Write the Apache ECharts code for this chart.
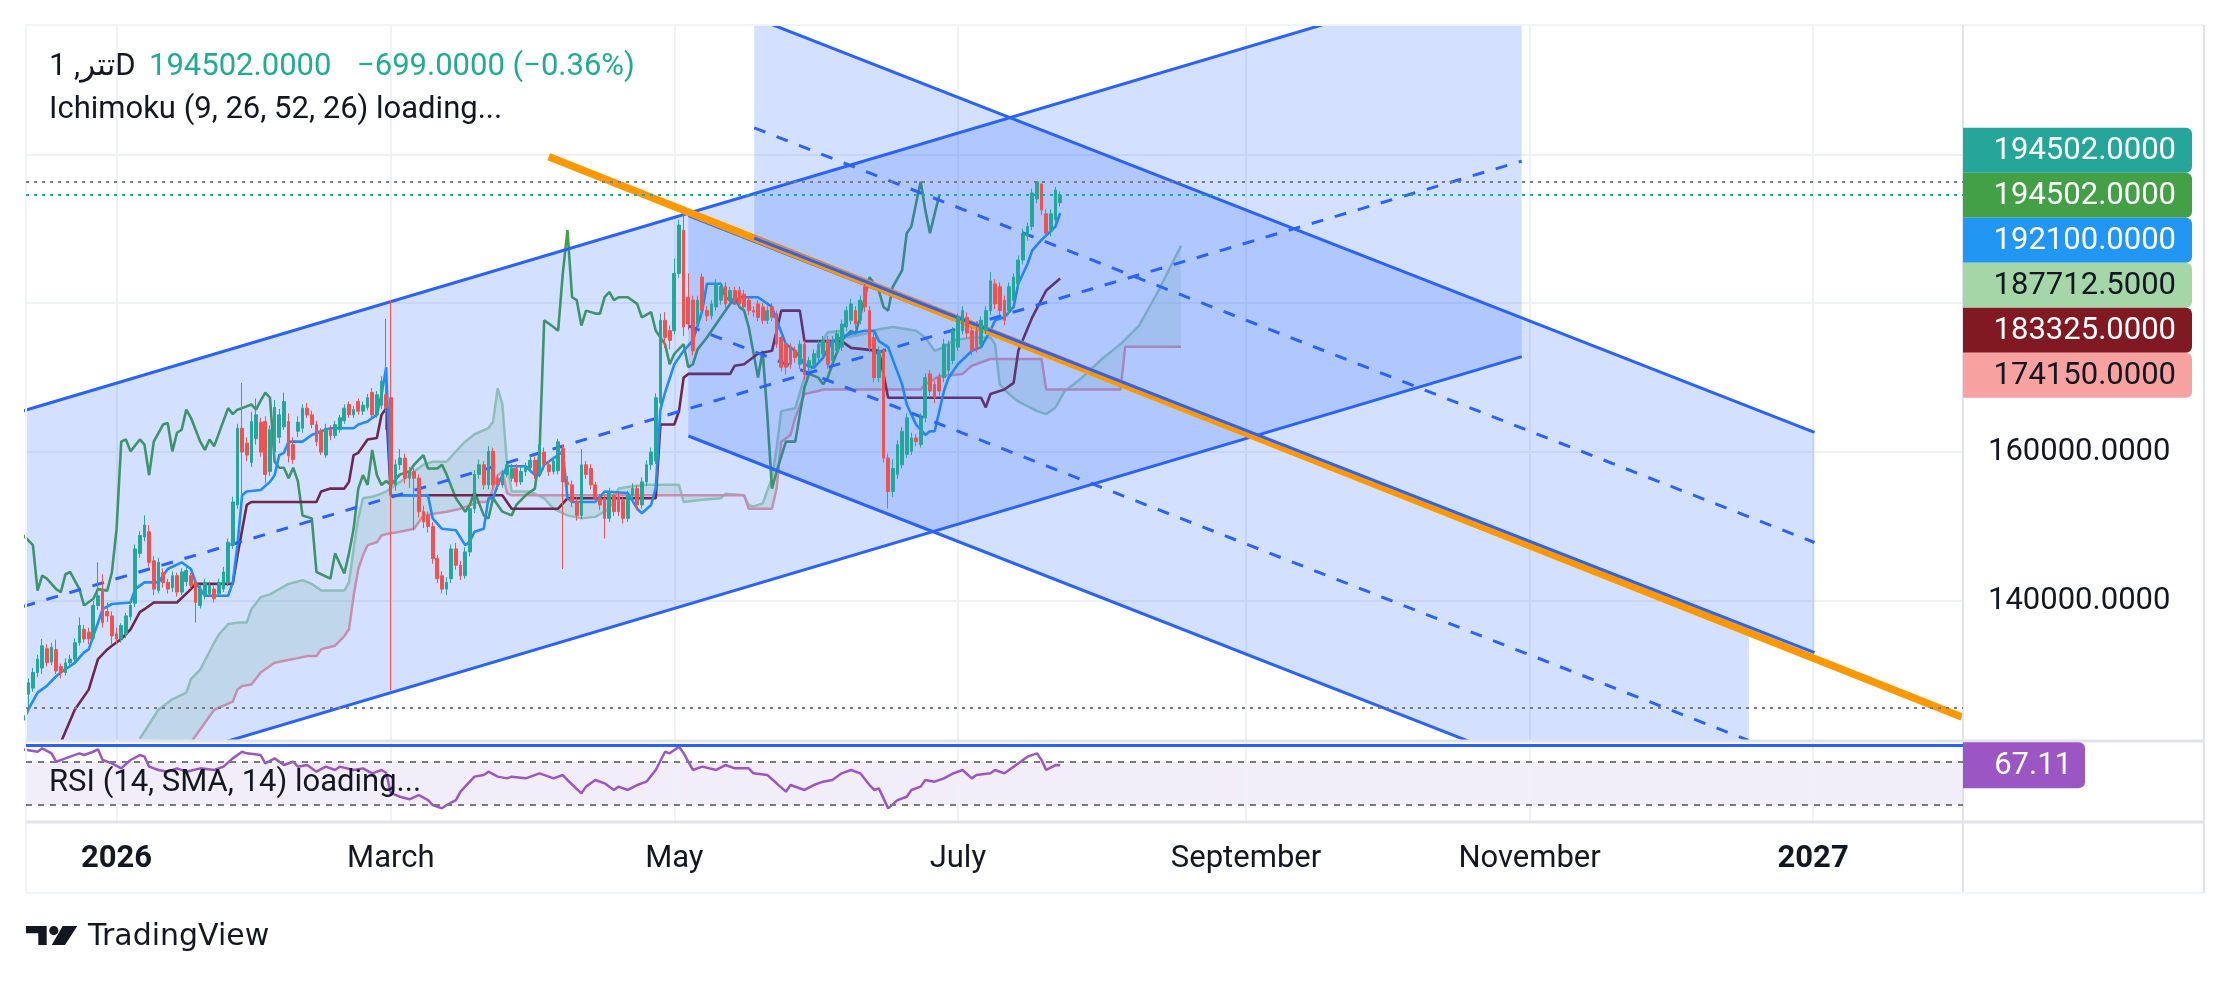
<!DOCTYPE html>
<html><head><meta charset="utf-8">
<script src="https://cdn.jsdelivr.net/npm/echarts@6.0.0/dist/echarts.min.js"></script>
<style>html,body{margin:0;padding:0;background:#fff}#c{width:2230px;height:986px}</style>
</head><body><div id="c"></div>
<script>
// ---------- DATA (prices in thousands; x of indicator/drawing points = days since dayZero) ----------
const dayZero = '2026-01-01';
const candleStart = '2025-12-13';
const symbolText = 'تتر, 1D';
// [open, close, low, high] per day
const candles = [
[127.5,129.0,125.6,129.6],[128.3,130.4,127.8,131.0],[130.4,132.2,129.8,132.8],[131.0,134.0,130.2,134.9],[133.6,131.7,131.2,134.2],
[131.8,133.8,131.4,134.4],[133.5,130.6,130.2,134.8],[131.2,130.4,129.6,131.6],[130.4,131.7,130.0,132.3],[131.7,132.2,131.2,132.8],
[132.2,134.4,131.8,135.0],[134.4,136.7,134.0,137.8],[136.2,134.9,134.4,136.8],[135.8,134.9,134.2,136.4],[135.0,139.4,134.8,140.0],
[139.4,140.7,138.8,145.2],[141.5,137.1,136.4,143.6],[138.6,138.0,137.2,139.8],[138.0,135.3,134.2,138.6],
[135.6,134.9,134.2,136.4],[134.9,136.7,134.4,137.0],[135.5,138.0,135.0,138.4],[137.9,139.4,137.4,140.2],[139.7,147.0,139.2,147.6],
[146.4,148.8,145.8,149.4],[148.6,150.2,148.0,151.5],[149.3,145.2,144.6,150.2],[145.4,141.6,140.8,146.0],[141.4,145.2,141.0,145.8],
[143.8,142.5,141.8,144.4],[142.5,141.6,141.0,143.0],[141.8,143.4,141.2,144.0],[143.4,141.2,140.6,143.8],[141.2,143.9,140.8,144.4],
[142.6,144.1,142.0,144.6],[143.4,142.1,141.6,143.8],[142.5,139.8,137.1,142.8],[139.4,141.6,139.0,142.2],[140.8,142.5,140.2,143.0],
[141.0,142.1,140.6,142.6],[141.6,140.3,139.8,142.0],[141.0,142.5,140.6,143.0],[141.6,143.9,141.2,144.6],[142.4,147.9,142.0,148.4],
[147.5,153.3,147.0,154.0],[152.9,163.2,152.4,163.8],[163.2,160.0,153.0,169.3],[161.2,159.6,158.8,162.0],[158.6,164.1,158.0,165.4],
[161.8,165.0,161.0,167.2],
[164.0,160.0,159.4,164.6],[164.1,157.0,155.8,164.8],[157.4,163.0,156.8,163.6],[160.0,166.0,159.4,167.0],[162.0,165.0,161.2,165.8],
[163.4,166.8,163.0,168.0],[164.1,159.5,158.6,165.2],[161.0,159.0,158.4,162.0],[162.8,164.0,162.0,164.8],[163.2,165.9,162.6,166.4],
[165.9,165.0,164.6,166.6],[165.0,163.7,163.2,165.6],[163.7,161.4,160.8,164.2],[162.8,160.0,159.6,163.2],[159.6,163.2,159.2,163.8],
[163.0,162.2,161.6,163.6],[162.2,163.7,161.8,164.2],[163.0,164.6,162.6,165.0],[164.2,165.9,163.8,166.4],[166.4,165.0,164.6,166.8],
[165.0,165.7,164.6,166.2],[166.8,165.5,165.0,167.2],[165.5,166.3,165.0,166.8],[166.0,167.3,165.6,167.8],[168.0,165.0,164.6,168.6],
[165.0,167.7,164.6,168.2],[166.3,169.5,165.8,170.2],
[167.7,166.0,163.0,177.9],[167.3,155.6,128.0,180.4],
[155.6,158.3,154.8,159.0],[158.3,159.2,157.6,160.4],[159.2,156.5,155.8,159.8],[156.5,157.4,155.2,158.0],[157.4,156.5,149.5,157.9],
[156.5,152.0,151.2,157.0],[152.0,150.6,149.8,152.8],[151.5,150.0,149.2,152.0],[150.0,145.7,145.0,150.6],[145.7,143.0,142.4,146.2],
[143.4,141.6,141.0,144.0],[141.6,142.5,140.8,143.2],[143.0,147.0,142.4,147.6],[147.0,144.8,144.2,147.8],[144.8,143.4,142.8,145.4],
[143.4,146.6,143.0,147.2],[146.6,152.4,146.0,153.0],[152.4,157.0,151.8,157.6],[157.0,158.3,156.4,159.0],[158.3,155.6,155.0,158.8],
[155.6,160.1,155.0,160.8],[160.1,155.6,155.0,160.6],[156.5,155.6,155.0,157.0],[155.6,157.0,155.2,157.6],[157.0,158.3,156.6,158.8],
[156.5,157.8,156.0,158.4],[157.8,156.0,155.4,158.4],[156.0,157.4,155.6,158.0],[157.4,157.9,156.8,158.6],[157.9,158.9,157.4,159.6],
[158.9,157.0,156.4,159.4],[157.0,161.0,156.6,161.6],[160.0,158.3,157.6,160.6],[158.3,157.4,156.8,158.8],[157.4,158.8,157.0,159.4],
[157.5,161.4,157.0,161.8],[160.5,156.0,144.3,161.0],[156.0,155.6,154.8,156.8],[155.6,153.3,152.6,156.2],[153.3,151.5,150.8,154.0],
[151.5,158.3,151.0,160.4],[158.3,157.0,156.4,158.8],[157.8,155.6,155.0,158.4],[155.6,153.8,153.2,156.0],[153.8,152.9,152.2,154.4],
[153.8,151.1,148.4,154.2],[151.1,154.7,150.6,155.2],[154.2,152.0,151.4,154.8],[154.0,152.0,151.4,154.6],[153.5,151.1,150.4,154.0],
[151.1,154.2,150.6,154.8],[154.2,155.1,153.6,155.8],[155.1,152.9,152.2,155.6],[152.9,156.0,152.4,156.6],[156.0,158.3,155.4,158.9],
[158.3,160.0,157.6,160.6],[158.8,167.3,158.4,167.9],[166.6,177.7,166.0,178.6],[177.7,175.4,174.0,178.8],[176.3,175.0,173.8,177.0],
[176.3,184.0,175.8,186.0],[184.0,190.5,183.4,191.2],
[189.8,176.8,175.6,191.9],
[180.8,177.2,176.4,184.0],[180.4,173.6,173.0,181.0],[177.2,180.4,176.6,181.0],[183.5,179.0,178.4,184.0],[179.0,178.3,177.6,179.6],
[178.3,179.9,177.8,180.4],[179.5,182.6,179.0,183.2],[180.4,182.2,179.8,182.8],[182.2,179.9,179.4,182.8],[180.4,181.7,179.8,182.2],
[181.7,180.4,179.8,182.2],[181.7,179.9,179.4,182.2],[181.2,179.5,179.0,181.8],[180.4,179.0,178.4,180.8],[179.0,178.8,178.2,179.6],
[179.9,178.1,177.6,180.4],[179.5,177.7,177.2,180.0],[177.7,179.0,177.2,179.6],[179.5,178.1,177.6,180.0],[178.6,174.5,174.0,179.0],
[175.4,171.4,170.8,176.0],[174.5,171.4,170.4,175.0],[174.0,171.8,171.2,174.6],[173.6,172.7,172.0,174.2],[171.8,174.5,171.2,175.0],
[174.5,170.4,169.8,175.0],[171.4,172.3,170.8,172.8],[171.8,173.2,171.2,173.8],[172.7,174.5,172.2,175.0],[173.2,175.0,172.8,175.6],
[175.0,171.8,171.2,175.6],[172.3,175.0,171.8,175.6],[173.6,175.9,173.2,176.4],[174.1,177.2,173.6,177.8],[176.8,179.0,176.2,179.6],
[177.7,179.9,177.2,180.6],[179.0,177.2,176.6,179.6],[177.7,180.4,177.2,181.0],[182.2,179.5,178.8,182.6],[179.0,174.0,173.4,179.6],
[175.4,170.0,169.4,176.0],[170.0,173.6,169.4,174.2],[173.6,159.2,158.6,174.0],[159.2,154.7,152.4,159.8],[154.7,157.8,154.0,159.0],
[157.0,161.0,156.4,161.6],[158.3,162.8,157.8,163.4],[159.7,164.6,159.2,165.2],[160.1,161.9,159.6,162.6],[161.9,161.4,160.8,162.4],
[161.0,164.6,160.6,165.2],[164.6,170.0,164.0,170.6],[170.5,168.2,167.6,171.0],[169.1,167.3,166.6,169.6],[170.0,168.2,167.6,170.6],
[170.0,174.5,169.4,175.2],[171.0,174.5,170.4,175.0],[172.3,176.3,171.8,176.8],[174.1,178.1,173.6,178.6],[176.3,179.0,175.8,179.6],
[178.1,176.0,175.4,178.8],[176.3,173.6,173.0,176.8],[176.3,174.1,173.4,176.8],[174.5,177.7,174.0,178.2],[176.3,179.0,175.8,179.6],
[179.0,183.0,178.4,184.2],[182.6,179.9,179.2,183.2],[182.2,179.0,178.4,182.8],[180.4,177.7,177.0,181.0],[179.0,182.2,178.4,182.8],
[180.4,183.5,180.0,184.0],[182.6,185.8,182.0,186.4],[185.8,189.4,185.2,190.0],[189.0,190.3,188.4,190.8],[190.3,194.8,189.8,195.4],
[194.0,196.3,193.4,196.3],[196.0,192.5,191.8,196.1],[192.0,189.4,188.8,192.6],[189.6,192.0,189.0,192.6],[191.2,195.201,190.8,195.6],
[193.5,194.502,193.0,195.0]
];
const tenkanPts = [[-20,124.0],[-19,125.4],[-17,127.7],[-15,128.6],[-13,129.9],[-12,130.4],[-9,131.7],[-7,133.1],[-6,133.5],[-4,137.1],[-3,138.9],[-1,139.6],[3,139.8],[4,141.6],[6,142.5],[9,142.5],[11,144.3],[14,145.2],[16,144.3],[17,142.5],[19,140.7],[24,140.7],[25,142.5],[26,147.5],[27,154.2],[28,154.7],[31,154.9],[33,156.0],[34,156.9],[35,159.6],[36,159.9],[37,161.4],[40,161.4],[42,162.3],[44,162.8],[46,163.2],[51,163.2],[52,163.7],[54,164.1],[55,164.6],[56,165.0],[57,167.7],[58,171.4],[59,154.2],[67,154.2],[68,151.1],[70,149.7],[73,149.5],[75,147.5],[76,148.0],[77,149.3],[79,149.7],[80,153.8],[81,153.8],[82,155.6],[84,158.1],[88,158.1],[90,156.9],[91,156.9],[92,158.3],[95,159.6],[96,160.1],[97,153.8],[98,153.3],[103,153.3],[105,154.7],[110,154.5],[112,152.4],[113,151.8],[115,152.9],[116,155.2],[117,165.7],[118,168.0],[120,171.8],[122,173.6],[124,175.0],[126,179.0],[127,182.6],[130,182.6],[131,180.8],[133,179.9],[134,180.8],[138,180.8],[141,179.5],[142,177.7],[144,174.5],[146,173.6],[148,171.8],[150,171.3],[152,172.7],[154,174.9],[156,175.4],[158,175.9],[161,176.3],[163,176.3],[164,174.9],[166,174.1],[169,169.1],[170,166.4],[172,163.7],[174,162.3],[175,162.8],[176,162.8],[178,168.2],[179,170.0],[181,171.8],[184,173.6],[186,174.1],[188,176.3],[189,177.7],[191,178.1],[193,179.5],[194,182.6],[196,185.3],[197,187.1],[199,188.5],[202,190.3],[203,192.1]];
const kijunPts = [[-12,121.0],[-9,125.4],[-6,128.1],[-4,132.2],[-2,133.5],[-1,134.0],[1,134.9],[3,136.2],[5,138.5],[6,138.9],[8,139.8],[13,139.8],[16,141.6],[17,142.3],[25,142.3],[26,146.1],[28,152.9],[29,153.3],[43,153.3],[44,154.7],[46,155.1],[49,155.1],[50,156.0],[51,159.6],[52,159.9],[54,161.7],[56,161.9],[57,165.0],[58,165.9],[59,154.2],[83,154.2],[85,152.4],[95,152.4],[97,153.8],[116,153.8],[117,163.7],[120,163.7],[121,165.5],[122,170.0],[123,170.5],[132,170.5],[133,171.6],[135,171.8],[138,173.2],[141,173.6],[143,179.0],[147,179.0],[148,174.9],[156,174.9],[158,174.0],[164,173.6],[166,167.3],[186,167.3],[187,166.0],[188,167.8],[191,168.4],[193,169.3],[194,173.6],[197,178.1],[200,181.7],[203,183.325]];
const chikouPts = [[-20,148.8],[-18,147.5],[-17,141.4],[-16,143.4],[-15,143.0],[-13,141.6],[-12,141.2],[-11,143.6],[-10,143.9],[-8,141.6],[-7,139.4],[-5,140.3],[-4,141.6],[-2,141.4],[-1,143.9],[0,149.7],[1,161.4],[2,161.7],[3,160.1],[5,161.7],[6,161.0],[7,156.9],[8,161.4],[10,163.7],[11,163.9],[12,160.1],[13,162.6],[14,163.0],[15,165.7],[16,164.6],[18,161.4],[19,160.3],[20,161.7],[21,160.8],[24,165.9],[25,165.1],[26,165.7],[27,165.9],[29,166.4],[30,165.7],[31,166.9],[32,168.0],[33,167.3],[34,158.7],[35,157.9],[36,157.9],[37,156.5],[38,157.9],[39,156.1],[40,151.5],[42,151.1],[43,143.9],[46,143.0],[47,146.4],[49,143.7],[50,146.4],[51,149.7],[52,155.1],[53,156.9],[54,155.6],[55,160.3],[56,156.9],[57,155.6],[58,156.1],[59,155.6],[61,157.0],[63,157.4],[64,158.3],[66,159.6],[67,157.8],[69,157.8],[70,158.3],[71,157.0],[73,153.8],[75,152.0],[76,152.9],[77,154.7],[79,151.5],[80,151.1],[81,153.8],[83,152.0],[85,151.5],[86,152.9],[88,154.2],[90,155.1],[91,160.1],[92,177.7],[94,176.8],[95,176.3],[96,184.0],[97,189.8],[98,180.8],[99,180.4],[100,177.0],[101,179.0],[103,178.6],[104,178.6],[105,180.8],[106,181.5],[107,180.4],[108,180.8],[110,180.8],[112,179.9],[113,178.1],[115,178.8],[116,176.3],[118,174.5],[119,171.8],[120,173.2],[122,174.5],[123,171.4],[124,171.8],[125,173.8],[127,175.4],[128,176.3],[130,178.1],[133,180.8],[134,179.5],[135,179.0],[136,176.8],[138,170.0],[139,173.6],[140,165.0],[141,155.1],[142,157.4],[144,161.4],[146,161.4],[148,168.7],[149,170.5],[151,170.0],[152,169.1],[153,170.0],[154,171.8],[156,175.0],[158,176.3],[159,175.9],[161,180.8],[162,183.5],[164,181.7],[165,179.5],[166,179.0],[167,182.2],[169,184.4],[170,189.4],[171,190.3],[172,193.4],[173,196.3],[174,192.5],[175,189.4],[176,192.0],[177,194.502]];
const senkouAPts = [[5,121.5],[9,125.4],[12,126.8],[15,127.7],[16,129.5],[18,130.8],[21,134.4],[22,135.5],[24,136.9],[26,137.1],[28,137.1],[29,138.9],[31,140.5],[33,140.9],[35,141.6],[37,142.3],[40,142.8],[42,142.3],[44,141.4],[49,141.4],[50,142.5],[51,147.0],[52,151.1],[53,153.8],[55,154.0],[56,154.2],[58,154.7],[61,156.0],[64,157.4],[66,158.3],[68,158.7],[71,158.7],[73,160.1],[75,161.4],[77,162.4],[80,163.2],[81,164.1],[82,168.6],[83,166.4],[84,158.3],[85,154.7],[89,154.7],[92,153.8],[94,152.4],[97,151.5],[100,151.1],[103,151.3],[106,152.4],[108,155.1],[111,155.4],[114,155.6],[121,155.6],[122,153.3],[126,153.6],[130,153.8],[131,154.4],[135,154.2],[136,152.9],[137,152.7],[139,153.1],[141,156.5],[142,160.5],[143,165.5],[146,165.9],[148,170.0],[150,171.8],[151,174.0],[153,176.1],[156,176.3],[157,175.4],[161,175.9],[164,176.5],[167,176.8],[172,176.3],[174,175.4],[175,174.5],[176,173.6],[178,174.1],[180,175.0],[184,175.4],[188,175.4],[189,174.5],[190,169.1],[192,167.8],[194,166.8],[198,165.5],[200,165.1],[202,166.0],[204,168.2],[207,169.6],[212,172.5],[216,174.5],[220,177.0],[224,181.5],[229,187.7125]];
const senkouBPts = [[16,121.0],[21,125.4],[25,126.5],[26,128.1],[27,128.6],[29,128.8],[31,130.4],[34,131.7],[38,132.2],[41,132.6],[43,132.6],[44,133.5],[45,133.7],[47,134.0],[49,135.3],[50,136.2],[51,140.7],[52,144.3],[53,146.1],[54,147.5],[56,147.9],[57,148.8],[58,149.0],[61,149.3],[64,149.7],[66,151.5],[71,152.0],[74,152.4],[78,153.3],[80,153.3],[82,156.9],[83,157.4],[84,154.5],[85,154.2],[135,154.2],[136,152.4],[141,152.4],[142,155.1],[143,161.4],[145,162.3],[146,164.6],[148,167.8],[151,168.2],[152,168.4],[173,168.4],[174,169.1],[177,170.2],[182,170.5],[184,171.6],[188,172.5],[199,172.5],[200,168.4],[216,168.4],[217,174.15],[229,174.15]];
const rsiPts = [[-20,81.8],[-17,79.6],[-16,82.7],[-14,78.1],[-13,70.3],[-11,73.4],[-10,75.0],[-8,78.1],[-7,76.5],[-5,79.6],[-4,81.8],[-3,71.9],[-1,68.8],[1,64.1],[3,71.9],[5,76.5],[6,75.0],[7,65.7],[9,62.6],[11,61.0],[13,64.1],[15,61.0],[18,64.1],[21,62.6],[23,65.7],[25,73.4],[27,79.6],[28,78.1],[31,76.5],[32,68.8],[34,73.4],[36,67.2],[38,70.3],[39,65.7],[41,67.2],[43,61.0],[45,65.7],[47,62.6],[48,65.7],[51,62.6],[53,64.1],[55,59.5],[57,62.6],[58,60.0],[59,41.0],[61,37.7],[63,35.3],[65,39.3],[67,34.6],[68,30.0],[70,26.9],[71,30.0],[73,34.6],[74,42.4],[76,51.7],[77,56.4],[79,57.9],[80,61.0],[82,56.4],[84,54.8],[85,56.4],[88,54.8],[91,59.5],[93,56.4],[94,54.8],[96,57.9],[97,53.3],[100,40.9],[101,47.1],[103,53.3],[105,50.2],[107,44.0],[108,47.1],[110,44.0],[112,48.6],[114,51.7],[116,62.6],[118,79.6],[119,78.1],[121,84.3],[122,78.1],[124,62.6],[126,65.7],[129,62.6],[131,67.2],[133,64.1],[136,64.1],[137,59.5],[140,57.9],[142,50.2],[144,42.4],[145,48.6],[148,44.0],[150,48.6],[152,51.7],[154,53.3],[156,59.5],[158,62.6],[160,59.5],[162,48.6],[163,44.0],[164,45.5],[166,26.9],[168,34.6],[170,37.7],[171,44.0],[173,47.1],[174,53.3],[176,51.7],[178,54.8],[180,59.5],[182,62.6],[184,54.8],[185,57.9],[188,59.5],[189,62.6],[191,59.5],[193,65.7],[195,71.9],[196,75.0],[198,78.1],[199,71.9],[200,62.6],[202,67.2],[203,67.11]];
const rsiLevels = [70, 30];
const rsiDrawnLevel = 85.2;
// drawings: [day, price(k)]
const ascUpper = [[-25,164.62],[302.3,225.34]];
const ascMiddle = [[-25,138.36],[302.3,199.08]];
const ascLower = [[-25,112.11],[302.3,172.83]];
const dLoTop = [[123.02,191.76],[351.2,136.05]];
const dLoMid = [[123.02,176.96],[351.2,121.25]];
const dLoBot = [[123.02,162.16],[351.2,106.45]];
const dUpTop = [[137.18,218.35],[365.3,162.66]];
const dUpMid = [[137.18,203.55],[365.3,147.86]];
const dUpBot = [[137.18,188.75],[365.3,133.06]];
const orangeTrend = [[92.97,199.67],[397.0,124.42]];
const timeTickDates = ['2026-01-01','2026-03-01','2026-05-01','2026-07-01','2026-09-01','2026-11-01','2027-01-01'];
const timeTickLabels = ['2026','March','May','July','September','November','2027'];
const priceTickLabels = [140000, 160000];
const priceGridLines = [140000, 160000, 180000, 200000];

// ---------- BUILD ----------
const FONT = 'Roboto, "DejaVu Sans", "Noto Sans", sans-serif';
const dayOf = s => (Date.parse(s) - Date.parse(dayZero)) / 864e5;
const K = k => Math.round(k * 1e5) / 100;
const P = arr => arr.map(p => [p[0], K(p[1])]);
const startDay = dayOf(candleStart);
const candleData = candles.map((c, i) => [startDay + i, K(c[0]), K(c[1]), K(c[2]), K(c[3])]);
const tickDays = timeTickDates.map(dayOf);
const lastClose = K(candles[candles.length - 1][1]);
const prevClose = K(candles[candles.length - 2][1]);
const maxHigh = Math.max(...candles.map(c => K(c[3])));
const minLow = Math.min(...candles.map(c => K(c[2])));
const last = a => K(a[a.length - 1][1]);
const X0 = -19.49, X1 = 397.25;

function line(name, pts, color, width, type, xi, yi, extra) {
  return Object.assign({ type: 'line', name, data: pts, xAxisIndex: xi || 0, yAxisIndex: yi || 0,
    symbol: 'none', silent: true, clip: true, lineStyle: { color, width, type: type || 'solid', cap: 'butt' } }, extra || {});
}
function poly(name, corners, fill) {
  return { type: 'custom', name, coordinateSystem: 'cartesian2d', xAxisIndex: 0, yAxisIndex: 0, clip: true, silent: true,
    data: [[0, 0]],
    renderItem: (params, api) => ({ type: 'polygon',
      shape: { points: corners.map(p => api.coord([p[0], K(p[1])])) }, style: { fill } }) };
}
const chFill = 'rgba(41,98,255,0.2)', chLine = '#2962ff', dash = [12, 12];
const gridLineStyle = { color: '#eef1f6', width: 2, type: 'solid' };

const series = [
  { type: 'line', name: 'grid0', data: [], xAxisIndex: 0, yAxisIndex: 0, silent: true,
    markLine: { silent: true, symbol: 'none', z: 1, animation: false, label: { show: false }, lineStyle: gridLineStyle,
      data: priceGridLines.map(v => ({ yAxis: v })).concat(tickDays.map(d => ({ xAxis: d }))) } },
  poly('cloud', senkouAPts.concat(senkouBPts.slice().reverse()), 'rgba(67,160,71,0.13)'),
  line('Leading Span A', P(senkouAPts), '#a5d6a7', 2.5),
  line('Leading Span B', P(senkouBPts), '#ef9a9a', 2.5),
  line('Lagging Span', P(chikouPts), '#43a047', 2.6),
  line('Base Line', P(kijunPts), '#801922', 2.6),
  line('Conversion Line', P(tenkanPts), '#2196f3', 2.6),
  poly('ascFill', [ascUpper[0], ascUpper[1], ascLower[1], ascLower[0]], chFill),
  line('ascUpper', P(ascUpper), chLine, 3),
  line('ascMiddle', P(ascMiddle), chLine, 3, dash),
  line('ascLower', P(ascLower), chLine, 3),
  poly('dLoFill', [dLoTop[0], dLoTop[1], dLoBot[1], dLoBot[0]], chFill),
  line('dLoTop', P(dLoTop), chLine, 3),
  line('dLoMid', P(dLoMid), chLine, 3, dash),
  line('dLoBot', P(dLoBot), chLine, 3),
  line('trend', P(orangeTrend), '#ff9800', 7.5),
  poly('dUpFill', [dUpTop[0], dUpTop[1], dUpBot[1], dUpBot[0]], chFill),
  line('dUpTop', P(dUpTop), chLine, 3),
  line('dUpMid', P(dUpMid), chLine, 3, dash),
  line('dUpBot', P(dUpBot), chLine, 3),
  { type: 'candlestick', name: 'price', xAxisIndex: 0, yAxisIndex: 0, silent: true, data: candleData,
    dimensions: ['day', 'open', 'close', 'lowest', 'highest'],
    encode: { x: 'day', y: ['open', 'close', 'lowest', 'highest'] },
    barWidth: 3.2,
    itemStyle: { color: '#26a69a', color0: '#ef5350', borderColor: '#26a69a', borderColor0: '#ef5350', borderWidth: 1 },
    markLine: { silent: true, symbol: 'none', z: 200, animation: false, label: { show: false },
      data: [
        { yAxis: maxHigh, lineStyle: { color: '#787b86', type: [3, 5], width: 2 } },
        { yAxis: minLow, lineStyle: { color: '#787b86', type: [3, 5], width: 2 } },
        { yAxis: lastClose, lineStyle: { color: '#26a69a', type: [3, 5], width: 2 } }
      ] } },
  // RSI pane
  { type: 'line', name: 'grid1', data: [], xAxisIndex: 1, yAxisIndex: 1, silent: true,
    markLine: { silent: true, symbol: 'none', z: 1, animation: false, label: { show: false }, lineStyle: gridLineStyle,
      data: tickDays.map(d => ({ xAxis: d })) } },
  line('RSI', rsiPts, '#9c56c4', 2.5, 'solid', 1, 1, {
    markArea: { silent: true, z: 0, itemStyle: { color: 'rgba(126,87,194,0.1)' }, data: [[{ yAxis: rsiLevels[1] }, { yAxis: rsiLevels[0] }]] },
    markLine: { silent: true, symbol: 'none', z: 150, animation: false, label: { show: false },
      data: [
        { yAxis: rsiLevels[0], lineStyle: { color: '#787b86', type: [6, 6], width: 2 } },
        { yAxis: rsiLevels[1], lineStyle: { color: '#787b86', type: [6, 6], width: 2 } },
        { yAxis: rsiDrawnLevel, lineStyle: { color: '#2962ff', type: 'solid', width: 3 } }
      ] } })
];
// explicit stacking order: later series drawn above earlier ones
series.forEach((s, i) => { s.z = 10 + i; });

const chart = echarts.init(document.getElementById('c'), null, { renderer: 'canvas', width: 2230, height: 986 });
chart.setOption({
  animation: false,
  backgroundColor: '#ffffff',
  textStyle: { fontFamily: FONT },
  grid: [{ left: 26, top: 26, width: 1937, height: 714 }, { left: 26, top: 743, width: 1937, height: 79 }],
  xAxis: [
    { type: 'value', gridIndex: 0, min: X0, max: X1, axisLine: { show: false }, axisTick: { show: false },
      axisLabel: { show: false }, splitLine: { show: false } },
    { type: 'value', gridIndex: 1, min: X0, max: X1, axisLine: { show: false }, axisTick: { show: false },
      splitLine: { show: false },
      axisLabel: { show: true, customValues: tickDays, margin: 22, fontSize: 31, fontFamily: FONT, color: '#131722',
        formatter: v => { const i = tickDays.findIndex(d => Math.abs(d - v) < 0.01); if (i < 0) return '';
          const t = timeTickLabels[i]; return /^\d{4}$/.test(t) ? '{y|' + t + '}' : t; },
        rich: { y: { fontSize: 31, fontWeight: 'bold', fontFamily: FONT, color: '#131722' } } } }
  ],
  yAxis: [
    { type: 'value', gridIndex: 0, position: 'right', min: 121335, max: 217225, axisLine: { show: false },
      axisTick: { show: false }, splitLine: { show: false },
      axisLabel: { customValues: priceTickLabels, formatter: v => Number(v).toFixed(4), margin: 25,
        fontSize: 31, fontFamily: FONT, color: '#131722' } },
    { type: 'value', gridIndex: 1, position: 'right', min: 14.2, max: 87.7, axisLine: { show: false },
      axisTick: { show: false }, splitLine: { show: false }, axisLabel: { show: false } }
  ],
  series
});

// ---------- overlays: legend texts, axis tags, frame ----------
const fmt = v => v.toFixed(4);
const minus = s => s.replace('-', '\u2212');
const chg = lastClose - prevClose;
const pct = chg / prevClose * 100;
const yPx = v => chart.convertToPixel({ gridIndex: 0 }, [0, v])[1];
const tags = [
  { v: lastClose, bg: '#26a69a', fg: '#ffffff' },
  { v: last(chikouPts), bg: '#43a047', fg: '#ffffff' },
  { v: last(tenkanPts), bg: '#2196f3', fg: '#ffffff' },
  { v: last(senkouAPts), bg: '#a5d6a7', fg: '#131722' },
  { v: last(kijunPts), bg: '#801922', fg: '#ffffff' },
  { v: last(senkouBPts), bg: '#f8a1a1', fg: '#131722' }
];
const tagH = 45, anchorY = yPx(tags[1].v);
const g = [];
tags.forEach((t, i) => {
  const cy = anchorY + (i - 1) * tagH;
  g.push({ type: 'rect', z: 100, shape: { x: 1963, y: cy - tagH / 2, width: 229, height: tagH, r: [0, 6, 6, 0] }, style: { fill: t.bg } });
  g.push({ type: 'text', z: 101, style: { text: fmt(t.v), x: 2176, y: cy + 1, align: 'right', verticalAlign: 'middle', fill: t.fg, font: '31px ' + FONT } });
});
const rsiY = chart.convertToPixel({ gridIndex: 1 }, [0, rsiPts[rsiPts.length - 1][1]])[1];
g.push({ type: 'rect', z: 100, shape: { x: 1963, y: rsiY - 23, width: 122, height: 46, r: [0, 6, 6, 0] }, style: { fill: '#9c56c4' } });
g.push({ type: 'text', z: 101, style: { text: rsiPts[rsiPts.length - 1][1].toFixed(2), x: 2072, y: rsiY + 1, align: 'right', verticalAlign: 'middle', fill: '#ffffff', font: '31px ' + FONT } });
// legend lines
g.push({ type: 'text', z: 101, style: { text: symbolText, x: 49, y: 67, verticalAlign: 'middle', fill: '#131722', font: '31px ' + FONT } });
g.push({ type: 'text', z: 101, style: { text: fmt(lastClose), x: 149, y: 67, verticalAlign: 'middle', fill: '#22ab94', font: '31px ' + FONT } });
g.push({ type: 'text', z: 101, style: { text: minus(fmt(chg)) + ' (' + minus(pct.toFixed(2)) + '%)', x: 357, y: 67, verticalAlign: 'middle', fill: '#22ab94', font: '31px ' + FONT } });
g.push({ type: 'text', z: 101, style: { text: 'Ichimoku (9, 26, 52, 26) loading...', x: 49, y: 110, verticalAlign: 'middle', fill: '#131722', font: '31px ' + FONT } });
g.push({ type: 'text', z: 101, style: { text: 'RSI (14, SMA, 14) loading...', x: 49, y: 783, verticalAlign: 'middle', fill: '#131722', font: '31px ' + FONT } });
// frame
const L = (x1, y1, x2, y2, c, w) => g.push({ type: 'line', z: 90, silent: true, shape: { x1, y1, x2, y2 }, style: { stroke: c, lineWidth: w } });
L(26, 25, 2204, 25, '#f0f3fa', 2);
L(26, 25, 26, 893, '#f0f3fa', 2);
L(2204, 25, 2204, 893, '#e0e3eb', 2);
L(1963, 25, 1963, 893, '#e0e3eb', 2);
L(26, 741, 2204, 741, '#e0e3eb', 3);
L(26, 822, 2204, 822, '#e0e3eb', 3);
L(26, 893, 2204, 893, '#f0f3fa', 2);
// TradingView logo
g.push({ type: 'polygon', z: 101, shape: { points: [[26, 926], [46.7, 926], [46.7, 945], [38.3, 945], [38.3, 933.3], [26, 933.3]] }, style: { fill: '#131722' } });
g.push({ type: 'circle', z: 101, shape: { cx: 53.8, cy: 930.6, r: 4.6 }, style: { fill: '#131722' } });
g.push({ type: 'polygon', z: 101, shape: { points: [[62.7, 926], [77.3, 926], [65, 945], [51.7, 945]] }, style: { fill: '#131722' } });
g.push({ type: 'text', z: 101, style: { text: 'TradingView', x: 88, y: 937, verticalAlign: 'middle', fill: '#131722', font: '30px "DejaVu Sans", sans-serif' } });
chart.setOption({ graphic: g });
</script>
</body></html>
